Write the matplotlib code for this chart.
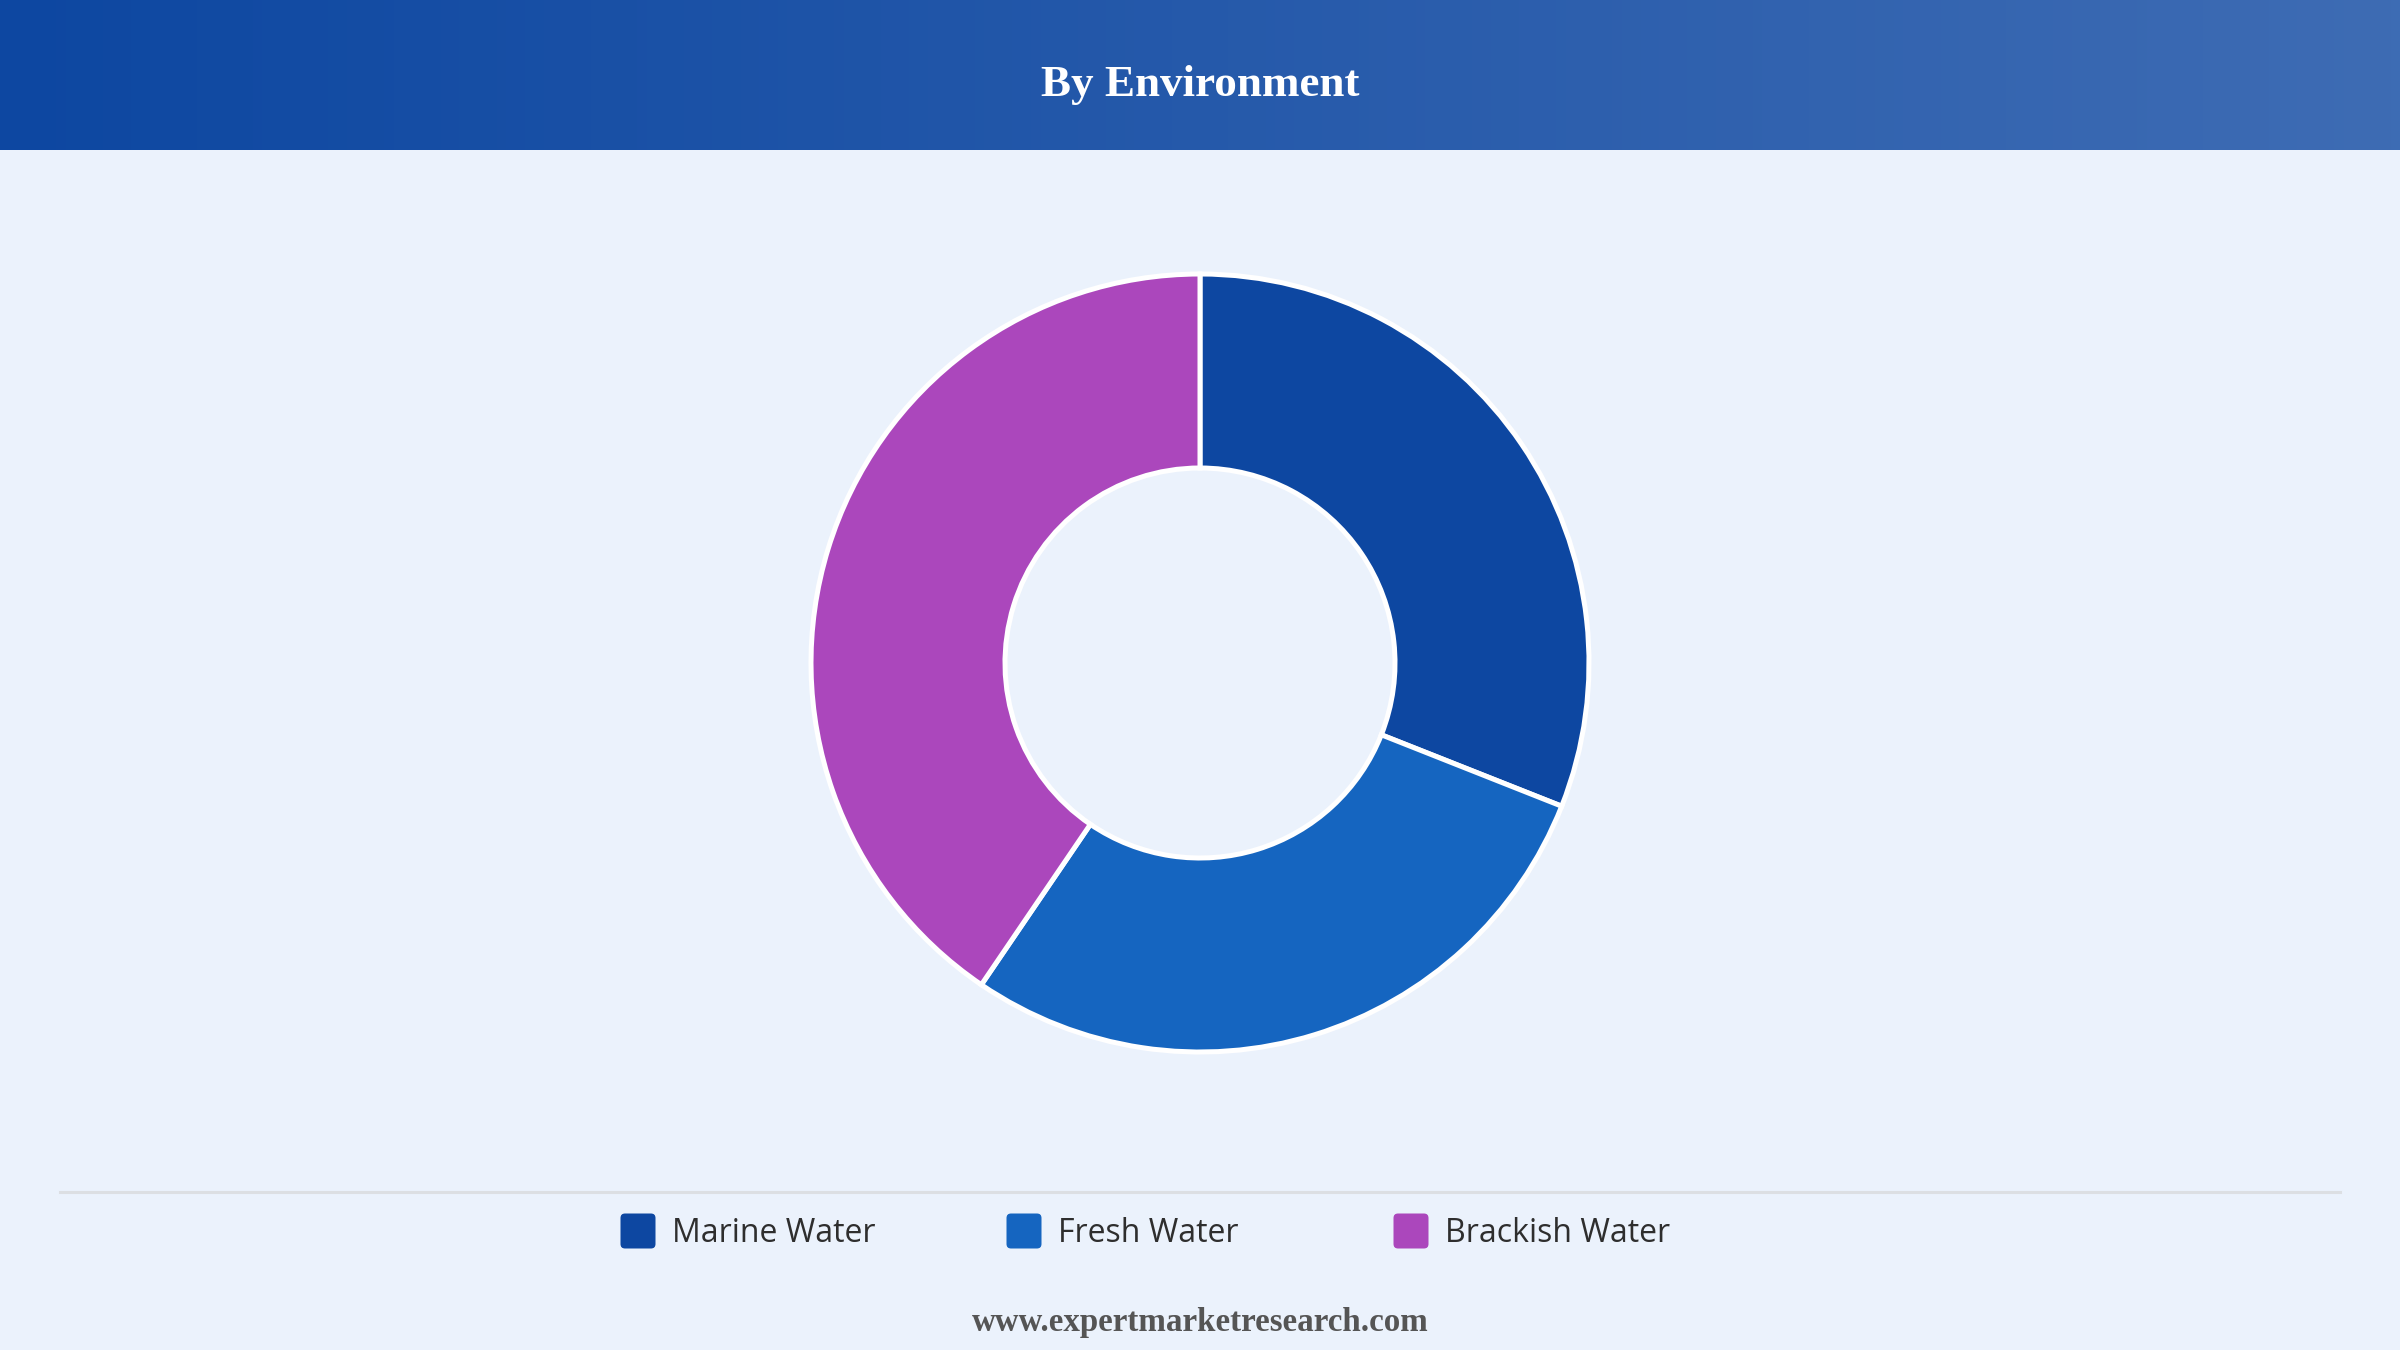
import matplotlib.pyplot as plt
import numpy as np
from matplotlib.patches import FancyBboxPatch

labels = ['Marine Water', 'Fresh Water', 'Brackish Water']
shares = [31.0, 28.5, 40.5]
colors = ['#0D47A1', '#1565C0', '#AB47BC']

W, H = 2400, 1350
bg = '#EBF2FC'

fig = plt.figure(figsize=(24, 13.5), dpi=100, facecolor=bg)
ax = fig.add_axes([0, 0, 1, 1])
ax.set_xlim(0, W)
ax.set_ylim(0, H)
ax.set_aspect('equal')
ax.axis('off')

# header bar with gradient
grad = np.linspace(0, 1, 256).reshape(1, -1)
c0 = np.array([13, 71, 161]) / 255
c1 = np.array([62, 108, 180]) / 255
img = c0 + (c1 - c0) * grad[..., None]
ax.imshow(img, extent=[0, W, H - 150, H], aspect='auto', zorder=1)
ax.text(W / 2, H - 85, 'By Environment', color='white', fontsize=32.5,
        fontweight='bold', family='Liberation Serif', ha='center', va='center', zorder=2)

# donut
wedges, _ = ax.pie(shares, colors=colors, startangle=90, counterclock=False,
                   radius=389, center=(1200, 687),
                   wedgeprops=dict(width=194, edgecolor='white', linewidth=3.6))
ax.set_xlim(0, W)
ax.set_ylim(0, H)

# separator
ax.plot([60, 2340], [158, 158], color='#DCDFE3', lw=2.2, zorder=2)

# legend
xs = [620, 1006, 1393]
ly = H - 1231
for x, lab, col in zip(xs, labels, colors):
    ax.add_patch(FancyBboxPatch((x + 5, ly - 13), 26, 26,
                                boxstyle='round,pad=4.5', fc=col, ec='none', zorder=3))
    ax.text(x + 52, ly - 2, lab, fontsize=23, color='#2E2E2E', family='Open Sans',
            ha='left', va='center', zorder=3)

ax.text(W / 2, H - 1323, 'www.expertmarketresearch.com', fontsize=23.8, color='#555555',
        fontweight='bold', family='Liberation Serif', ha='center', va='center')

fig.savefig('out.png', dpi=100, facecolor=bg)
